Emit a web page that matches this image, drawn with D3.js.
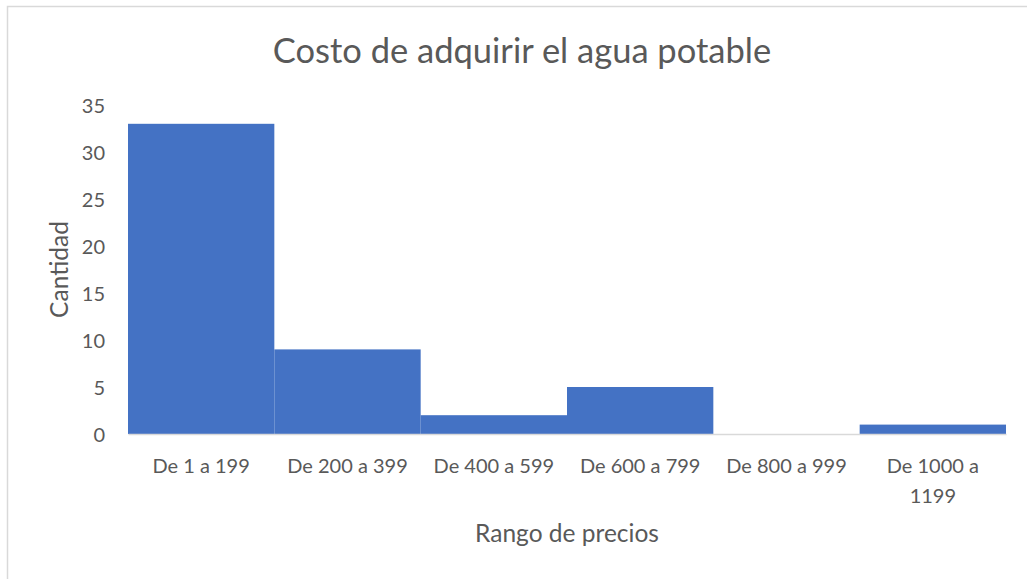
<!DOCTYPE html>
<meta charset="utf-8">
<script src="https://d3js.org/d3.v7.min.js"></script>
<style>
  body { margin: 0; background: #fff; }
  text { font-family: Lato, "Open Sans", sans-serif; fill: #595959; }
</style>
<div id="chart"></div>
<script>
// data
const categories = ["De 1 a 199", "De 200 a 399", "De 400 a 599", "De 600 a 799", "De 800 a 999", "De 1000 a 1199"];
const counts = [33, 9, 2, 5, 0, 1];
const yTicks = [0, 5, 10, 15, 20, 25, 30, 35];

const W = 1027, H = 579;
const margin = {top: 105, right: 21, bottom: 145, left: 128};

const svg = d3.select("#chart").append("svg")
  .attr("width", W)
  .attr("height", H);

// chart frame (runs off the right and bottom edges)
svg.append("rect")
  .attr("x", 7.5).attr("y", 6.5)
  .attr("width", W + 20).attr("height", H + 20)
  .attr("fill", "none")
  .attr("stroke", "#d9d9d9")
  .attr("stroke-width", 1.5);

const x = d3.scaleBand()
  .domain(categories)
  .range([margin.left, W - margin.right])
  .padding(0);

const y = d3.scaleLinear()
  .domain([0, 35])
  .range([H - margin.bottom, margin.top]);

// bars
svg.selectAll("rect.bar")
  .data(counts)
  .join("rect")
  .attr("class", "bar")
  .attr("x", (d, i) => x(categories[i]))
  .attr("y", d => y(d))
  .attr("width", x.bandwidth())
  .attr("height", d => y(0) - y(d))
  .attr("fill", "#4472c4");

// y axis (labels only)
const yAxis = svg.append("g")
  .attr("transform", "translate(" + (margin.left) + ",0)")
  .call(d3.axisLeft(y).tickValues(yTicks).tickSize(0).tickPadding(23));
yAxis.select(".domain").remove();
yAxis.selectAll("text")
  .style("font-size", "20px")
  .attr("dy", "0.36em");

// x axis
const xAxis = svg.append("g")
  .attr("transform", "translate(0," + y(0) + ")")
  .call(d3.axisBottom(x).tickSize(0).tickPadding(25));
xAxis.select(".domain")
  .attr("stroke", "#d9d9d9")
  .attr("stroke-width", 1.5);
xAxis.selectAll("text")
  .style("font-size", "20px")
  .call(wrap, x.bandwidth() - 6);

function wrap(sel, width) {
  sel.each(function() {
    const t = d3.select(this);
    const words = t.text().split(" ");
    const yy = t.attr("y"), dy = parseFloat(t.attr("dy"));
    t.text(null);
    let line = [], lineNo = 0;
    let tspan = t.append("tspan").attr("x", 0).attr("y", yy).attr("dy", dy + "em");
    words.forEach(w => {
      line.push(w);
      tspan.text(line.join(" "));
      if (tspan.node().getComputedTextLength() > width && line.length > 1) {
        line.pop();
        tspan.text(line.join(" "));
        line = [w];
        lineNo++;
        tspan = t.append("tspan").attr("x", 0).attr("y", yy)
          .attr("dy", (dy + lineNo * 1.5) + "em").text(w);
      }
    });
  });
}

// title
svg.append("text")
  .attr("x", 522)
  .attr("y", 63)
  .attr("text-anchor", "middle")
  .style("font-size", "34.5px")
  .text("Costo de adquirir el agua potable");

// axis titles
svg.append("text")
  .attr("transform", "translate(68," + (y(17.5)) + ") rotate(-90)")
  .attr("text-anchor", "middle")
  .style("font-size", "24.5px")
  .text("Cantidad");

svg.append("text")
  .attr("x", (margin.left + W - margin.right) / 2)
  .attr("y", 542)
  .attr("text-anchor", "middle")
  .style("font-size", "24.5px")
  .text("Rango de precios");
</script>
